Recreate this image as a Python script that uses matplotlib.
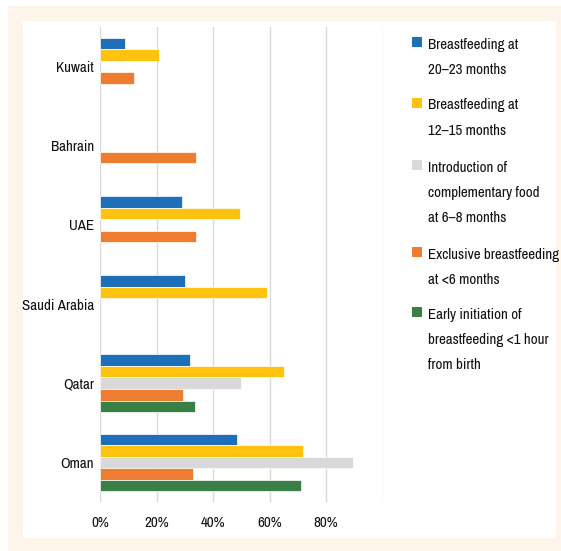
import matplotlib
matplotlib.use("Agg")
import matplotlib.pyplot as plt
from matplotlib.patches import Rectangle
import numpy as np

nan = np.nan

# data (percent)
countries = ["Kuwait", "Bahrain", "UAE", "Saudi Arabia", "Qatar", "Oman"]
bf_20_23 = [9, nan, 29, 30, 32, 48.5]
bf_12_15 = [21, nan, 49.5, 59, 65, 72]
comp_food = [nan, nan, nan, nan, 50, 89.5]
excl_bf = [12, 34, 34, nan, 29.5, 33]
early_init = [nan, nan, nan, nan, 33.5, 71]

series = [bf_20_23, bf_12_15, comp_food, excl_bf, early_init]
labels = ["Breastfeeding at\n20\u201323 months",
          "Breastfeeding at\n12\u201315 months",
          "Introduction of\ncomplementary food\nat 6\u20138 months",
          "Exclusive breastfeeding\nat <6 months",
          "Early initiation of\nbreastfeeding <1 hour\nfrom birth"]
colors = ["#1E6FB9", "#FFC20F", "#D9D9D9", "#EE7D31", "#3A7F46"]
xticks = [0, 20, 40, 60, 80, 100]
xticklabels = ["0%", "20%", "40%", "60%", "80%", ""]

plt.rcParams["font.family"] = ["Archivo Narrow", "PT Sans Narrow", "DejaVu Sans"]
txt = "#111111"
fs = 10.8

W, H = 561, 551
fig = plt.figure(figsize=(W / 100, H / 100), dpi=100)
fig.patch.set_facecolor("white")

def px(x0, y0, x1, y1):
    # pixel box (top-origin) -> figure fraction rect
    return (x0 / W, 1 - y1 / H, (x1 - x0) / W, (y1 - y0) / H)

# cream frame and white panel
fig.patches.append(Rectangle(px(8, 6, 561, 551)[:2], *px(8, 6, 561, 551)[2:],
                             transform=fig.transFigure, facecolor="#FDF5EA",
                             edgecolor="none", zorder=-2))
fig.patches.append(Rectangle(px(23, 21, 556, 538)[:2], *px(23, 21, 556, 538)[2:],
                             transform=fig.transFigure, facecolor="white",
                             edgecolor="none", zorder=-1))

ax = fig.add_axes(px(100, 27, 382.5, 502))
ax.set_facecolor("none")

bh = 0.146
y = np.arange(len(countries))
for k, (vals, c) in enumerate(zip(series, colors)):
    vals = np.array(vals, dtype=float)
    ok = ~np.isnan(vals)
    ax.barh(y[ok] + (k - 2) * bh, vals[ok], height=bh, color=c,
            edgecolor="white", linewidth=0.5, zorder=3)

ax.set_xlim(0, 100)
ax.set_ylim(len(countries) - 0.5, -0.5)
ax.set_xticks(xticks)
ax.set_xticklabels(xticklabels)
ax.set_yticks(y)
ax.set_yticklabels(countries)
ax.tick_params(axis="x", length=0, pad=10, labelsize=fs, labelcolor=txt)
ax.tick_params(axis="y", length=0, pad=4.5, labelsize=fs, labelcolor=txt)
ax.grid(axis="x", color="#D9D9D9", linewidth=1, zorder=0)
for s in ax.spines.values():
    s.set_visible(False)

# legend drawn by hand so the squares sit on the first line
sq_tops = [37, 98, 160, 247, 307]
for lab, c, t in zip(labels, colors, sq_tops):
    fig.patches.append(Rectangle(px(412, t, 422, t + 10)[:2], *px(412, t, 422, t + 10)[2:],
                                 transform=fig.transFigure, facecolor=c,
                                 edgecolor="none"))
    fig.text(428 / W, 1 - (t + 0.5) / H, lab, ha="left", va="top",
             fontsize=fs, color=txt, linespacing=2.02)

fig.savefig("out.png", dpi=100)
